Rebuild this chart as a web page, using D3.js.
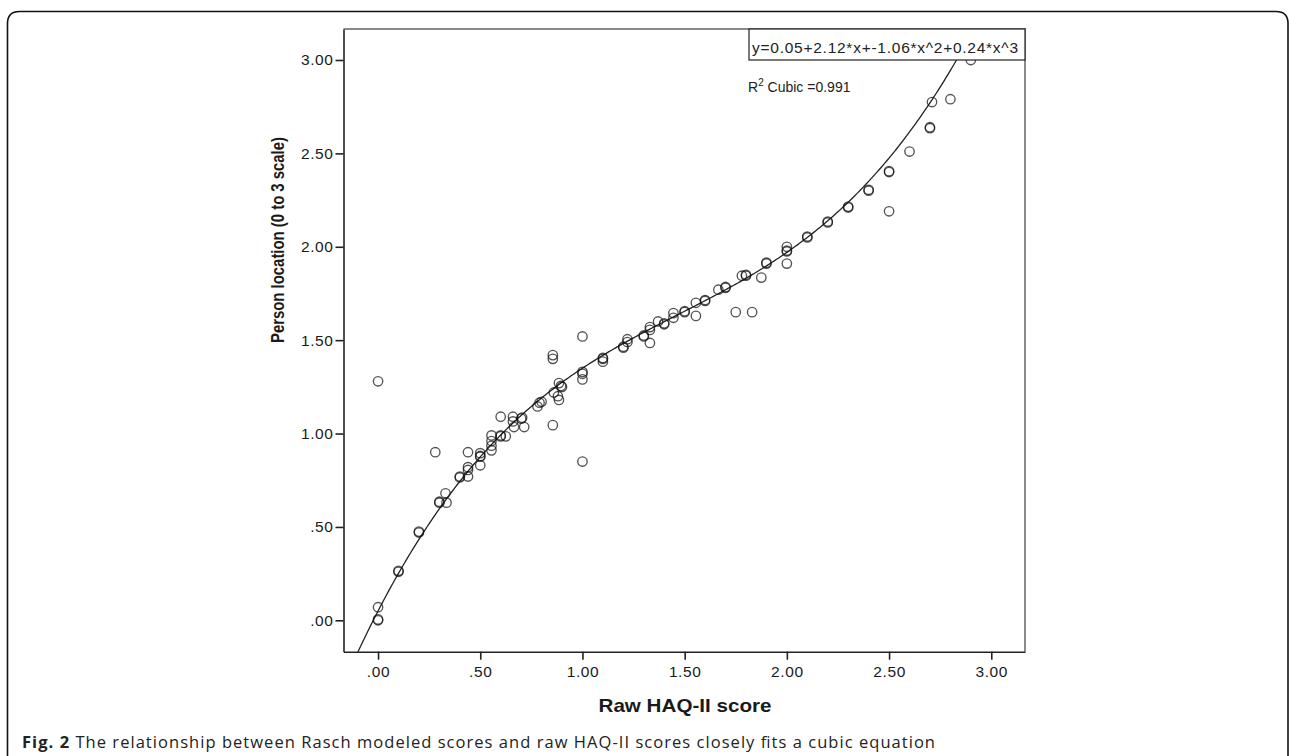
<!DOCTYPE html>
<html>
<head>
<meta charset="utf-8">
<script src="https://cdn.jsdelivr.net/npm/d3@7"></script>
<style>
  body { margin: 0; background: #fff; }
  svg { display: block; }
</style>
</head>
<body>
<div id="scatter"></div>
<script>
// raw HAQ-II score (x) and Rasch person location (y)
var rawScore = [
  0.00, 0.00, 0.00, 0.00, 0.10, 0.10, 0.20, 0.20, 0.28, 0.30,
  0.30, 0.33, 0.335, 0.40, 0.40, 0.44, 0.44, 0.44, 0.44, 0.50,
  0.50, 0.50, 0.50, 0.555, 0.555, 0.555, 0.555, 0.60, 0.60, 0.60,
  0.625, 0.66, 0.66, 0.665, 0.70, 0.705, 0.715, 0.78, 0.79, 0.80,
  0.855, 0.855, 0.855, 0.86, 0.885, 0.88, 0.885, 0.90, 0.895, 1.00,
  1.00, 1.00, 1.00, 1.00, 1.10, 1.10, 1.10, 1.20, 1.20, 1.22,
  1.22, 1.30, 1.30, 1.33, 1.33, 1.33, 1.37, 1.40, 1.40, 1.445,
  1.445, 1.50, 1.50, 1.555, 1.555, 1.60, 1.60, 1.665, 1.70, 1.70,
  1.75, 1.78, 1.80, 1.80, 1.83, 1.875, 1.90, 1.90, 2.00, 2.00,
  2.00, 2.00, 2.10, 2.10, 2.20, 2.20, 2.30, 2.30, 2.40, 2.40,
  2.50, 2.50, 2.50, 2.60, 2.70, 2.70, 2.71, 2.80, 2.90
];
var personLocation = [
  1.28, 0.07, 0.00, 0.005, 0.26, 0.265, 0.47, 0.475, 0.90, 0.63,
  0.635, 0.68, 0.63, 0.765, 0.77, 0.90, 0.82, 0.805, 0.77, 0.895,
  0.876, 0.88, 0.83, 0.99, 0.96, 0.91, 0.935, 1.09, 0.99, 0.985,
  0.985, 1.09, 1.065, 1.035, 1.08, 1.085, 1.035, 1.145, 1.165, 1.17,
  1.42, 1.40, 1.045, 1.22, 1.27, 1.20, 1.18, 1.25, 1.255, 1.52,
  1.32, 1.33, 1.29, 0.85, 1.40, 1.405, 1.385, 1.465, 1.46, 1.505,
  1.49, 1.52, 1.525, 1.57, 1.555, 1.485, 1.60, 1.585, 1.59, 1.645,
  1.62, 1.655, 1.65, 1.70, 1.63, 1.715, 1.71, 1.77, 1.78, 1.785,
  1.65, 1.845, 1.85, 1.845, 1.65, 1.835, 1.915, 1.91, 2.00, 1.98,
  1.975, 1.91, 2.055, 2.05, 2.13, 2.135, 2.215, 2.21, 2.305, 2.30,
  2.40, 2.405, 2.19, 2.51, 2.635, 2.64, 2.775, 2.79, 3.00
];

// tick values and labels
var tickValues = [0, 0.5, 1, 1.5, 2, 2.5, 3];
var tickLabels = [".00", ".50", "1.00", "1.50", "2.00", "2.50", "3.00"];

// cubic fit shown on the chart
var fitCoef = [0.05, 2.12, -1.06, 0.24];
var fitLabel = "y=0.05+2.12*x+-1.06*x^2+0.24*x^3";
var r2Label = "0.991";

var caption = "The relationship between Rasch modeled scores and raw HAQ-II scores closely fits a cubic equation";

// plot box in page pixels
var W = 1289, H = 756;
var pLeft = 343.5, pRight = 1025, pTop = 29, pBottom = 651.7;

var svg = d3.select("#scatter")
  .append("svg")
    .attr("width", W)
    .attr("height", H);

// rounded frame round the figure (open at the bottom)
svg.append("path")
  .attr("d", "M7.5," + (H + 5) + " V23.5 Q7.5,11.5 19.5,11.5 H1276 Q1288,11.5 1288,23.5 V" + (H + 5))
  .attr("fill", "none")
  .attr("stroke", "#111")
  .attr("stroke-width", 1.6);

var x = d3.scaleLinear()
  .domain([-0.169, 3.165])
  .range([pLeft, pRight]);

var y = d3.scaleLinear()
  .domain([-0.168, 3.166])
  .range([pBottom, pTop]);

// gray top and right border of the plot
svg.append("path")
  .attr("d", "M" + pLeft + "," + pTop + " H" + pRight + " V" + pBottom)
  .attr("fill", "none")
  .attr("stroke", "#8a8a8a")
  .attr("stroke-width", 2);

// X axis
var xAxis = svg.append("g")
  .attr("transform", "translate(0," + pBottom + ")")
  .call(d3.axisBottom(x)
    .tickValues(tickValues)
    .tickSize(8)
    .tickSizeOuter(0)
    .tickFormat(function(d, i) { return tickLabels[i]; }));

// Y axis
var yAxis = svg.append("g")
  .attr("transform", "translate(" + pLeft + ",0)")
  .call(d3.axisLeft(y)
    .tickValues(tickValues)
    .tickSize(8)
    .tickSizeOuter(0)
    .tickFormat(function(d, i) { return tickLabels[i]; }));

[xAxis, yAxis].forEach(function(a) {
  a.select(".domain").attr("stroke", "#222").attr("stroke-width", 1.6);
  a.selectAll(".tick line").attr("stroke", "#222").attr("stroke-width", 1.6);
  a.selectAll(".tick text")
    .style("font-family", "'Liberation Sans', Arial, sans-serif")
    .style("font-size", "15.5px")
    .style("letter-spacing", "0.6px")
    .attr("fill", "#1a1a1a");
});
xAxis.selectAll(".tick text").attr("y", 14);
yAxis.selectAll(".tick text").attr("x", -10);

// clip for the fit line
svg.append("clipPath")
  .attr("id", "plotclip")
  .append("rect")
    .attr("x", pLeft)
    .attr("y", pTop)
    .attr("width", pRight - pLeft)
    .attr("height", pBottom - pTop);

var fitPts = d3.range(-0.2, 3.2, 0.01).map(function(v) {
  return [v, fitCoef[0] + fitCoef[1] * v + fitCoef[2] * v * v + fitCoef[3] * v * v * v];
});

svg.append("path")
  .datum(fitPts)
  .attr("clip-path", "url(#plotclip)")
  .attr("fill", "none")
  .attr("stroke", "#222")
  .attr("stroke-width", 1.3)
  .attr("d", d3.line()
    .x(function(d) { return x(d[0]); })
    .y(function(d) { return y(d[1]); }));

// Add dots
svg.append("g")
  .selectAll("circle")
  .data(d3.range(rawScore.length))
  .enter()
  .append("circle")
    .attr("cx", function(i) { return x(rawScore[i]); })
    .attr("cy", function(i) { return y(personLocation[i]); })
    .attr("r", 4.7)
    .attr("fill", "none")
    .attr("stroke", "#111")
    .attr("stroke-opacity", 0.72)
    .attr("stroke-width", 1.35);

// equation box
svg.append("rect")
  .attr("x", 749)
  .attr("y", pTop)
  .attr("width", pRight - 749)
  .attr("height", 31)
  .attr("fill", "#fff")
  .attr("stroke", "#222")
  .attr("stroke-width", 1.2);

svg.append("text")
  .attr("x", 752)
  .attr("y", 53)
  .attr("textLength", 266)
  .attr("lengthAdjust", "spacing")
  .style("font-family", "'Liberation Sans', Arial, sans-serif")
  .style("font-size", "15.5px")
  .attr("fill", "#222")
  .text(fitLabel);

var r2 = svg.append("text")
  .attr("x", 748)
  .attr("y", 91.5)
  .style("font-family", "'Liberation Sans', Arial, sans-serif")
  .style("font-size", "14px")
  .attr("fill", "#222");
r2.append("tspan").text("R");
r2.append("tspan").attr("dy", -6).style("font-size", "10px").text("2");
r2.append("tspan").attr("dy", 6).text(" Cubic =" + r2Label);

// X axis label
svg.append("text")
  .attr("x", 685)
  .attr("y", 711.5)
  .attr("text-anchor", "middle")
  .attr("textLength", 173)
  .attr("lengthAdjust", "spacingAndGlyphs")
  .style("font-family", "'Liberation Sans', Arial, sans-serif")
  .style("font-weight", "bold")
  .style("font-size", "19px")
  .attr("fill", "#1a1a1a")
  .text("Raw HAQ-II score");

// Y axis label
svg.append("text")
  .attr("transform", "translate(284,240)rotate(-90)")
  .attr("text-anchor", "middle")
  .attr("textLength", 206)
  .attr("lengthAdjust", "spacingAndGlyphs")
  .style("font-family", "'Liberation Sans Narrow', 'Liberation Sans', Arial, sans-serif")
  .style("font-weight", "bold")
  .style("font-size", "19px")
  .attr("fill", "#1a1a1a")
  .text("Person location (0 to 3 scale)");

// caption
var cap = svg.append("text")
  .attr("x", 22)
  .attr("y", 748)
  .attr("textLength", 913)
  .attr("lengthAdjust", "spacing")
  .style("font-family", "'Open Sans', sans-serif")
  .style("font-size", "16.5px")
  .attr("fill", "#222");
cap.append("tspan").style("font-weight", "bold").text("Fig. 2");
cap.append("tspan").text(" " + caption);
</script>
</body>
</html>
